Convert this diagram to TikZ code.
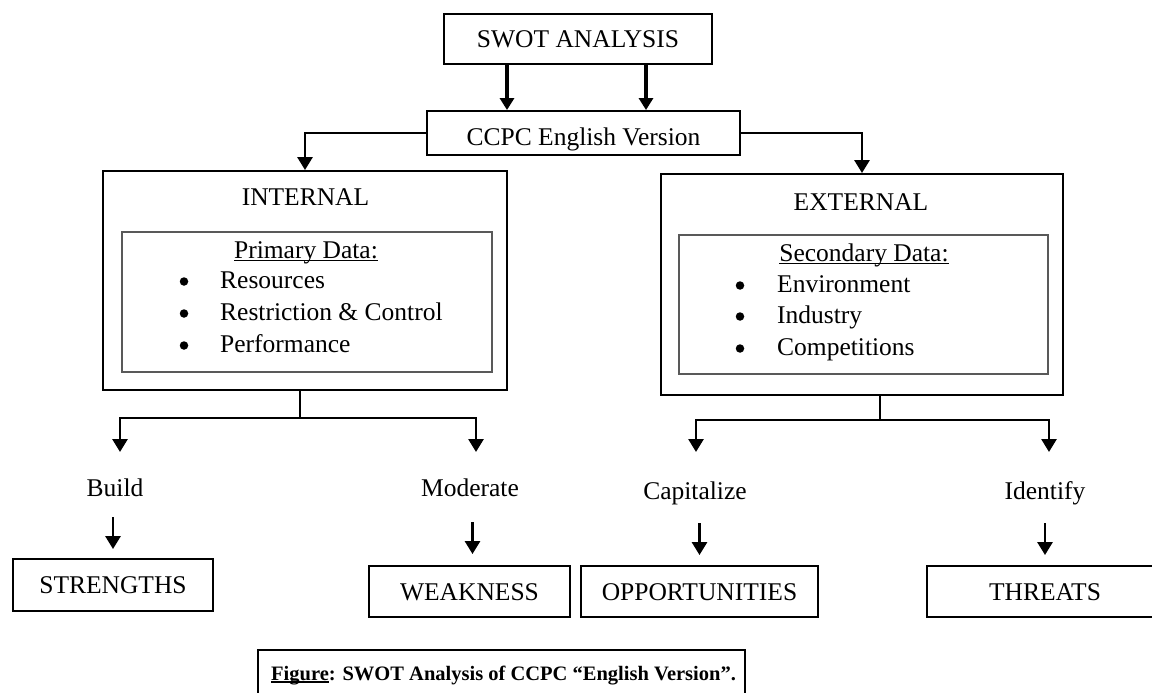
\documentclass[tikz,border=0pt]{standalone}
\usepackage{fontspec}
\setmainfont{Liberation Serif}
\usetikzlibrary{arrows.meta}
\newcommand\ulx[2][0.9pt]{\setbox0\hbox{#2}\rlap{\rule[-2.6pt]{\wd0}{#1}}\box0}
\begin{document}
\begin{tikzpicture}[x=1pt,y=-1pt,
  box/.style={draw=black, line width=1.9pt, inner sep=0pt, text depth=0pt,
              font=\fontsize{25.5}{30}\selectfont},
  inbox/.style={draw=black!65, line width=1.1pt, inner sep=0pt},
  lbl/.style={inner sep=0pt, anchor=base, font=\fontsize{25.5}{30}\selectfont},
  item/.style={lbl, anchor=base west},
  dot/.style={circle, fill=black, inner sep=0pt, minimum size=8.5pt},
  conn/.style={line width=2.8pt},
  arr/.style={conn, -{Triangle[width=15pt,length=13pt]}},
  bigarr/.style={line width=4.5pt, -{Triangle[width=14pt,length=12pt]}}]
\useasboundingbox (0,0) rectangle (1152,693);

% top
\node[box, minimum width=268pt, minimum height=50pt, text height=18pt] (swot) at (578,39) {SWOT ANALYSIS};
\node[box, minimum width=313pt, minimum height=44pt, text height=26pt] (ccpc) at (583.5,133) {CCPC English Version};

% internal / external
\node[box, minimum width=404pt, minimum height=219pt] (int) at (305,280.5) {};
\node[box, minimum width=402pt, minimum height=221pt] (ext) at (862,284.5) {};
\node[inbox, minimum width=370pt, minimum height=140pt] (intin) at (307,302) {};
\node[inbox, minimum width=369pt, minimum height=139pt] (extin) at (863.5,304.5) {};

\node[lbl] (intT) at (305.5,205) {INTERNAL};
\node[lbl] (pd) at (306,258) {\ulx{Primary Data:}};
\node[dot] (ib1) at (184,281.5) {};
\node[dot] (ib2) at (184,313.5) {};
\node[dot] (ib3) at (184,345.5) {};
\node[item] (ii1) at (220,288) {Resources};
\node[item] (ii2) at (220,320) {Restriction \& Control};
\node[item] (ii3) at (220,352) {Performance};

\node[lbl] (extT) at (861,210) {EXTERNAL};
\node[lbl] (sd) at (864,261) {\ulx{Secondary Data:}};
\node[dot] (eb1) at (740,285.5) {};
\node[dot] (eb2) at (740,316.5) {};
\node[dot] (eb3) at (740,348.5) {};
\node[item] (ei1) at (777,292) {Environment};
\node[item] (ei2) at (777,323) {Industry};
\node[item] (ei3) at (777,355) {Competitions};

% bottom labels and boxes
\node[lbl] (build) at (115,496) {Build};
\node[lbl] (mod) at (470,496) {Moderate};
\node[lbl] (cap) at (695,499) {Capitalize};
\node[lbl] (idf) at (1045,499) {Identify};

\node[box, minimum width=200pt, minimum height=52pt, text height=16pt] (str) at (113,585) {STRENGTHS};
\node[box, minimum width=201pt, minimum height=51pt, text height=17pt] (weak) at (469.5,591.5) {WEAKNESS};
\node[box, minimum width=237pt, minimum height=51pt, text height=17pt] (opp) at (699.5,591.5) {OPPORTUNITIES};
\node[box, minimum width=236pt, minimum height=51pt, text height=17pt] (thr) at (1045,591.5) {THREATS};

% caption
\node[box, minimum width=487pt, minimum height=60pt] (capbox) at (501.5,680) {};
\node[lbl, anchor=base west, font=\bfseries\fontsize{20.5}{25}\selectfont] (capT) at (271,680)
  {\ulx[1.6pt]{Figure}: SWOT Analysis of CCPC “English Version”.};

% connectors
\draw[bigarr] ([xshift=-71pt]swot.south) -- ([xshift=-71pt]swot.south |- ccpc.north);
\draw[bigarr] ([xshift=68pt]swot.south) -- ([xshift=68pt]swot.south |- ccpc.north);
\draw[arr] (ccpc.west) -| (int.north);
\draw[arr] (ccpc.east) -| (ext.north);

\coordinate (jl) at (300,418);
\coordinate (tb) at (120,452);
\coordinate (tm) at (476,452);
\draw[conn] (int.south -| jl) -- (jl);
\draw[arr] (jl) -| (tb);
\draw[arr] (jl) -| (tm);

\coordinate (jr) at (880,420);
\coordinate (tc) at (696,452);
\coordinate (ti) at (1049,452);
\draw[conn] (ext.south -| jr) -- (jr);
\draw[arr] (jr) -| (tc);
\draw[arr] (jr) -| (ti);

\draw[arr, shorten <=21pt, shorten >=9pt] (str.north |- build.base) -- (str.north);
\draw[arr, shorten <=26pt, shorten >=11pt] ([xshift=3pt]weak.north |- mod.base) -- ([xshift=3pt]weak.north);
\draw[arr, shorten <=24pt, shorten >=10pt] (opp.north |- cap.base) -- (opp.north);
\draw[arr, shorten <=24pt, shorten >=10pt] (thr.north |- idf.base) -- (thr.north);
\end{tikzpicture}
\end{document}
